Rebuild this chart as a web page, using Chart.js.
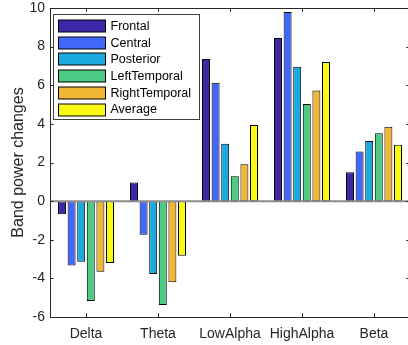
<!DOCTYPE html>
<html>
<head>
<meta charset="utf-8">
<script src="https://cdn.jsdelivr.net/npm/chart.js@4"></script>
<style>
html,body{margin:0;padding:0;background:#fff;overflow:hidden;}
canvas{display:block;}
</style>
</head>
<body>
<canvas id="c" width="410" height="345"></canvas>
<script>
const categories = ["Delta", "Theta", "LowAlpha", "HighAlpha", "Beta"];
const seriesNames = ["Frontal", "Central", "Posterior", "LeftTemporal", "RightTemporal", "Average"];
const frontal       = [-0.68,  0.97, 7.36, 8.45, 1.49];
const central       = [-3.33, -1.74, 6.13, 9.79, 2.57];
const posterior     = [-3.14, -3.77, 2.97, 6.96, 3.11];
const leftTemporal  = [-5.17, -5.38, 1.29, 5.03, 3.51];
const rightTemporal = [-3.66, -4.20, 1.91, 5.73, 3.85];
const average       = [-3.21, -2.83, 3.94, 7.20, 2.92];
const yTicks = [-6, -4, -2, 0, 2, 4, 6, 8, 10];

const seriesValues = [frontal, central, posterior, leftTemporal, rightTemporal, average];
const colors = ["#3e26a8", "#4166fa", "#1ca9df", "#4acb84", "#f0b634", "#f9f914"];
const AX = "#262626";
const FONT = "'Liberation Sans', Arial, sans-serif";

const boxPlugin = {
  id: "matlabBox",
  afterDatasetsDraw(chart) {
    const ctx = chart.ctx, a = chart.chartArea;
    const xs = chart.scales.x, ys = chart.scales.y;
    ctx.save();
    const y0 = ys.getPixelForValue(0);
    ctx.strokeStyle = "#8c8c8c";
    ctx.lineWidth = 2;
    ctx.beginPath(); ctx.moveTo(a.left, y0); ctx.lineTo(a.right, y0); ctx.stroke();
    ctx.strokeStyle = AX; ctx.lineWidth = 1;
    ctx.beginPath();
    ctx.moveTo(a.left + 0.5, a.bottom + 0.5); ctx.lineTo(a.left + 0.5, a.top + 0.5);
    ctx.lineTo(a.right - 0.5, a.top + 0.5); ctx.lineTo(a.right - 0.5, a.bottom + 0.5);
    ctx.lineTo(a.left + 0.5, a.bottom + 0.5);
    ctx.stroke();
    const tl = 3.7;
    ctx.beginPath();
    xs.ticks.forEach((t, i) => {
      const x = Math.round(xs.getPixelForTick(i)) + 0.5;
      ctx.moveTo(x, a.bottom); ctx.lineTo(x, a.bottom - tl);
      ctx.moveTo(x, a.top); ctx.lineTo(x, a.top + tl);
    });
    ys.ticks.forEach(t => {
      const y = Math.round(ys.getPixelForValue(t.value)) + 0.5;
      ctx.moveTo(a.left, y); ctx.lineTo(a.left + tl, y);
      ctx.moveTo(a.right, y); ctx.lineTo(a.right - tl, y);
    });
    ctx.stroke();
    ctx.restore();
  },
  afterDraw(chart) {
    const ctx = chart.ctx, a = chart.chartArea;
    const bx = a.left + 3.5, by = a.top + 6.5, bw = 146, bh = 105;
    ctx.save();
    ctx.fillStyle = "#fff";
    ctx.fillRect(bx, by, bw, bh);
    ctx.strokeStyle = "#404040"; ctx.lineWidth = 1;
    ctx.strokeRect(bx, by, bw, bh);
    ctx.font = "12.5px " + FONT;
    ctx.textBaseline = "middle";
    ctx.textAlign = "left";
    chart.data.datasets.forEach((ds, i) => {
      const ry = by + 5.5 + i * 16.7;
      ctx.fillStyle = ds.backgroundColor;
      ctx.fillRect(bx + 5, Math.round(ry), 47, 12);
      ctx.strokeStyle = "#000";
      ctx.strokeRect(bx + 5, Math.round(ry), 47, 12);
      ctx.fillStyle = "#000";
      ctx.fillText(ds.label, bx + 57, ry + 6.5);
    });
    ctx.restore();
  }
};

new Chart(document.getElementById("c"), {
  type: "bar",
  data: {
    labels: categories,
    datasets: seriesNames.map((n, i) => ({
      label: n,
      data: seriesValues[i],
      backgroundColor: colors[i],
      borderColor: "#000",
      borderWidth: 1,
      borderSkipped: false,
      categoryPercentage: 0.8,
      barPercentage: 0.83
    }))
  },
  options: {
    responsive: false,
    animation: false,
    devicePixelRatio: 1,
    layout: { padding: { top: 8, left: 0, right: 0, bottom: 0 } },
    plugins: { legend: { display: false }, tooltip: { enabled: false } },
    scales: {
      x: {
        offset: true,
        grid: { display: false, drawTicks: false },
        border: { display: false },
        ticks: { color: AX, font: { family: FONT, size: 14 }, padding: 9, maxRotation: 0 },
        afterFit(s) { s.height = 28; s.paddingLeft = 0; s.paddingRight = 0; }
      },
      y: {
        min: -6, max: 10,
        afterBuildTicks(s) { s.ticks = yTicks.map(v => ({ value: v })); },
        grid: { display: false, drawTicks: false },
        border: { display: false },
        ticks: { color: AX, font: { family: FONT, size: 14 }, padding: 5 },
        title: { display: true, text: "Band power changes", color: AX, font: { family: FONT, size: 16 }, padding: { top: 9, bottom: 0 } },
        afterFit(s) { s.width = 50; s.paddingTop = 0; s.paddingBottom = 0; }
      }
    }
  },
  plugins: [boxPlugin]
});
</script>
</body>
</html>
